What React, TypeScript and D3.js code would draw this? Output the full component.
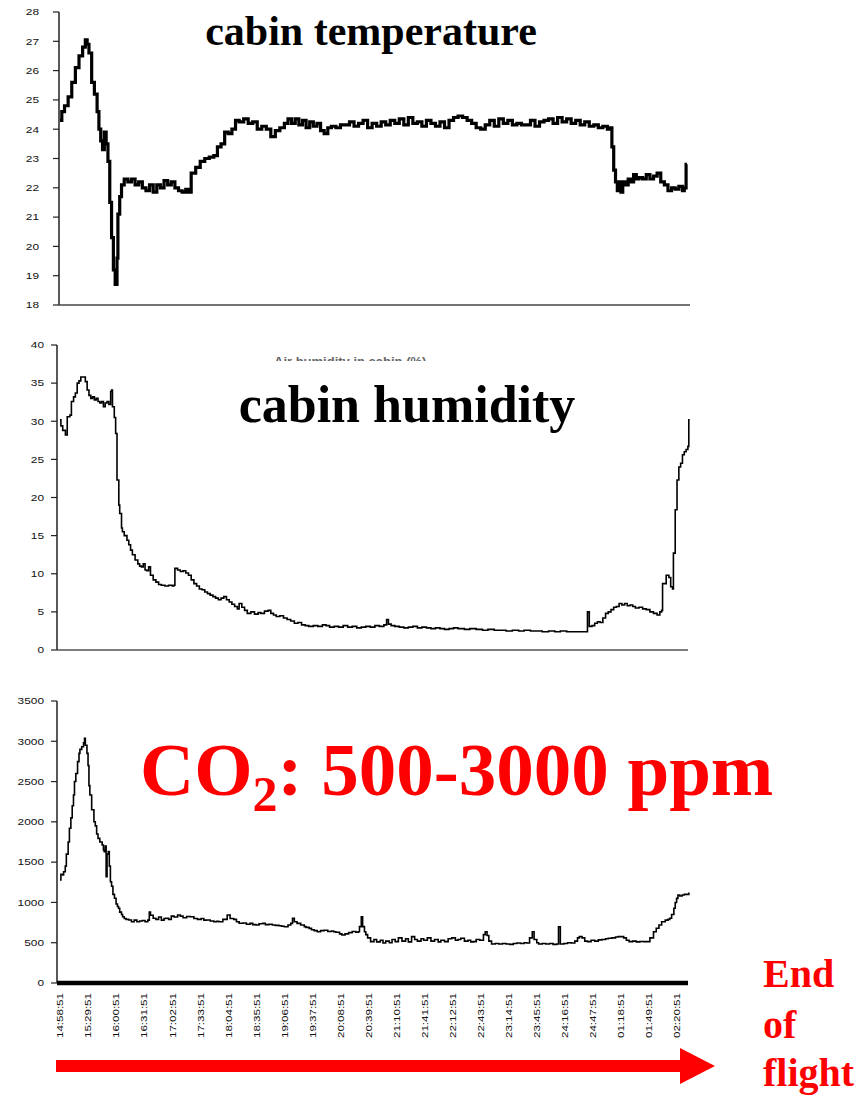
import React from 'react';
import * as d3 from 'd3';

// ---------- DATA (time in minutes since 14:58:51) ----------
const X_TICK_LABELS = [
  '14:58:51', '15:29:51', '16:00:51', '16:31:51', '17:02:51', '17:33:51', '18:04:51', '18:35:51',
  '19:06:51', '19:37:51', '20:08:51', '20:39:51', '21:10:51', '21:41:51', '22:12:51', '22:43:51',
  '23:14:51', '23:45:51', '24:16:51', '24:47:51', '01:18:51', '01:49:51', '02:20:51',
];

const TEMP_TICKS = [18, 19, 20, 21, 22, 23, 24, 25, 26, 27, 28];
const HUM_TICKS = [0, 5, 10, 15, 20, 25, 30, 35, 40];
const CO2_TICKS = [0, 500, 1000, 1500, 2000, 2500, 3000, 3500];

const TEMP: [number, number][] = [
  [0, 24.3], [2, 24.6], [5, 24.8], [9, 25.1], [13, 25.6], [17, 26.1], [21, 26.5], [25, 26.8], [28, 27.05],
  [30, 26.9], [32, 26.6], [35, 25.6], [38, 25.2], [41, 24.6], [43, 24.0], [45, 23.6], [47, 23.3], [49, 23.9],
  [51, 23.5], [53, 22.9], [55, 21.5], [57, 20.3], [59, 19.2], [61, 18.7], [63, 19.6], [64, 21.1], [66, 21.7],
  [68, 22.1], [71, 22.3], [75, 22.2], [79, 22.3], [83, 22.1], [87, 22.2], [91, 22.0], [95, 21.9], [99, 22.1],
  [103, 21.85], [107, 22.1], [111, 22.0], [115, 22.25], [119, 22.1], [123, 22.2], [127, 22.0], [131, 21.9],
  [135, 21.85], [139, 21.95], [142, 21.85], [145, 22.5], [150, 22.7], [155, 22.9], [160, 23.0], [165, 23.05],
  [170, 23.1], [174, 23.4], [178, 23.5], [182, 23.9], [186, 23.85], [190, 24.0], [194, 24.3], [198, 24.25],
  [203, 24.35], [208, 24.2], [213, 24.25], [218, 24.0], [223, 24.1], [228, 24.0], [233, 23.75], [238, 23.95],
  [243, 24.05], [248, 24.2], [252, 24.35], [256, 24.2], [260, 24.35], [264, 24.15], [268, 24.3], [272, 24.05],
  [276, 24.25], [280, 24.1], [284, 24.2], [288, 23.95], [292, 23.85], [296, 24.05], [300, 24.1], [305, 24.05],
  [310, 24.15], [315, 24.15], [320, 24.25], [325, 24.1], [330, 24.2], [335, 24.3], [340, 24.05], [345, 24.2],
  [350, 24.1], [355, 24.25], [360, 24.15], [365, 24.3], [370, 24.2], [375, 24.35], [380, 24.15], [385, 24.4],
  [390, 24.2], [395, 24.25], [400, 24.1], [405, 24.3], [410, 24.2], [415, 24.1], [420, 24.25], [425, 24.05],
  [430, 24.3], [435, 24.4], [440, 24.45], [445, 24.4], [450, 24.3], [455, 24.2], [460, 24.05], [465, 24.0],
  [470, 24.15], [475, 24.3], [480, 24.1], [485, 24.35], [490, 24.2], [495, 24.3], [500, 24.15], [505, 24.2],
  [510, 24.15], [515, 24.15], [520, 24.3], [525, 24.1], [530, 24.25], [535, 24.3], [540, 24.35], [545, 24.2],
  [550, 24.4], [555, 24.25], [560, 24.35], [565, 24.2], [570, 24.3], [575, 24.15], [580, 24.25], [585, 24.1],
  [590, 24.15], [595, 24.05], [600, 24.1], [605, 24.0], [608, 24.05], [610, 23.4], [612, 22.6], [614, 22.2],
  [616, 21.9], [618, 22.2], [620, 21.85], [622, 22.2], [625, 22.1], [628, 22.3], [631, 22.2], [634, 22.45],
  [637, 22.3], [640, 22.35], [644, 22.3], [648, 22.45], [652, 22.3], [656, 22.4], [660, 22.5], [664, 22.2],
  [668, 22.1], [672, 21.9], [676, 22.0], [680, 21.95], [684, 22.05], [688, 21.9], [690, 22.0], [692, 22.8], [693, 22.8],
];

const HUM: [number, number][] = [
  [0, 30.2], [1, 29.4], [3, 28.8], [6, 28.2], [8, 30.6], [11, 30.8], [12.6, 32.6], [15, 33.2], [17, 33.7],
  [19, 35], [21, 35.3], [23, 35.8], [26, 35.8], [28, 35.2], [30, 34.1], [32, 33.4], [34, 33.0], [36, 33.2],
  [38, 32.8], [40, 33.0], [42, 32.6], [44, 32.4], [46, 32.6], [48, 31.9], [50, 32.4], [52, 32.6], [54, 32.2],
  [56, 33.9], [57, 34.1], [58, 31.9], [60, 30.5], [61.5, 28.4], [63, 22.3], [65, 19], [66, 17.9], [68, 16],
  [69, 15.5], [71, 15], [74, 14.4], [76, 13.8], [78, 13.1], [80, 12.5], [83, 11.8], [86, 11.3], [88, 11.0],
  [90, 10.9], [92, 11.3], [94, 10.5], [96, 10.4], [98, 10.9], [100, 9.8], [103, 9.2], [106, 8.9], [109, 8.6],
  [112, 8.5], [116, 8.4], [120, 8.5], [124, 8.4], [126, 8.5], [127, 10.7], [130, 10.5], [133, 10.3], [136, 10.4],
  [139, 10.1], [142, 9.8], [145, 9.2], [148, 8.7], [151, 8.4], [154, 8.0], [157, 7.9], [160, 7.6], [163, 7.4],
  [166, 7.2], [169, 7.0], [172, 6.8], [175, 6.6], [178, 6.8], [181, 7.0], [184, 6.6], [187, 6.3], [190, 6.0],
  [193, 5.7], [196, 5.4], [198, 6.1], [201, 5.6], [204, 5.2], [207, 4.8], [211, 5.0], [215, 4.7], [219, 4.9],
  [222, 4.8], [226, 5.1], [230, 5.2], [233, 4.8], [236, 4.6], [239, 4.4], [243, 4.5], [247, 4.2], [251, 4.0],
  [255, 3.8], [259, 3.5], [263, 3.6], [267, 3.3], [271, 3.2], [275, 3.1], [280, 3.2], [285, 3.1], [290, 3.3],
  [294, 3.2], [298, 3.0], [303, 3.1], [308, 3.0], [313, 3.2], [318, 3.0], [323, 3.1], [328, 2.9], [333, 3.0],
  [338, 3.1], [343, 3.0], [348, 3.2], [353, 3.1], [358, 3.3], [361, 4.0], [363, 3.4], [366, 3.2], [370, 3.1],
  [375, 3.0], [380, 2.9], [385, 3.0], [390, 3.1], [395, 2.9], [400, 3.0], [405, 2.9], [410, 2.8], [415, 2.9],
  [420, 2.8], [425, 2.7], [430, 2.8], [435, 2.9], [440, 2.8], [447, 2.7], [453, 2.8], [460, 2.7], [467, 2.6],
  [473, 2.7], [480, 2.6], [487, 2.6], [493, 2.5], [500, 2.6], [507, 2.5], [513, 2.6], [520, 2.5], [527, 2.5],
  [533, 2.4], [540, 2.5], [547, 2.4], [553, 2.5], [560, 2.4], [567, 2.4], [574, 2.4], [581, 2.4], [583, 5.0],
  [585, 3.1], [588, 3.2], [591, 3.5], [594, 3.7], [597, 3.6], [600, 4.2], [603, 4.8], [606, 5.0], [609, 5.3],
  [612, 5.6], [615, 5.7], [618, 6.1], [621, 5.9], [624, 6.1], [627, 5.8], [630, 5.9], [633, 5.7], [636, 5.5],
  [640, 5.6], [644, 5.4], [648, 5.3], [652, 5.0], [656, 4.8], [660, 4.6], [663, 5.0], [665, 5.2], [666, 8.7],
  [670, 9.8], [673, 9.5], [675, 8.3], [677, 8.0], [678, 12.7], [680, 18.4], [682, 22.3], [684, 24.0],
  [686, 24.5], [688, 25.6], [690, 26.0], [692, 26.3], [694, 26.7], [695, 30.2], [696, 30.2],
];

const CO2: [number, number][] = [
  [0, 1280], [1, 1350], [3, 1340], [4, 1380], [5.8, 1450], [7, 1600], [9, 1750], [10.4, 1920], [12, 2050],
  [13.5, 2200], [14.9, 2333], [16, 2500], [17.5, 2600], [19.4, 2747], [21, 2850], [22, 2900], [24, 2933],
  [26, 2980], [27.1, 3036], [28, 2950], [29.8, 2850], [31, 2700], [32, 2450], [33, 2333], [35, 2150],
  [37.5, 2002], [39, 1950], [40.5, 1850], [42, 1795], [44, 1750], [46.6, 1713], [48, 1650], [48.9, 1630],
  [50, 1700], [51, 1320], [52, 1600], [53.4, 1630], [54.5, 1450], [55.7, 1257], [57, 1200], [58.5, 1100],
  [60.2, 1051], [62, 980], [63.5, 950], [64.7, 927], [66, 880], [68, 850], [69.2, 823], [71, 800], [73, 790],
  [76, 782], [79, 760], [82, 780], [85, 761], [88, 770], [91, 775], [94, 760], [97, 780], [98.7, 880],
  [100, 840], [103, 803], [106, 790], [109, 820], [112, 780], [115, 800], [117, 803], [120, 790], [123, 830],
  [126, 820], [130, 844], [133, 830], [136, 810], [140, 825], [144, 823], [148, 800], [152, 790], [156, 800],
  [159, 780], [162, 782], [166, 770], [170, 760], [173, 765], [175.7, 761], [180, 790], [184.8, 844],
  [188, 800], [192, 790], [195, 760], [198, 741], [202, 745], [206, 730], [210, 740], [213, 725], [216.5, 720],
  [220, 735], [224, 740], [227, 725], [231, 730], [234.6, 720], [238, 715], [242, 710], [245, 705], [248, 699],
  [252, 720], [255, 740], [257, 803], [259, 760], [262, 740], [266, 720], [270, 700], [272, 690], [275.4, 678],
  [278, 660], [281, 650], [284.4, 637], [288, 650], [292, 655], [296, 640], [300, 645], [302.5, 637],
  [305, 630], [309, 610], [311.6, 596], [315, 610], [319, 625], [323, 640], [327, 630], [329.7, 637],
  [331, 700], [333, 823], [334.5, 700], [336.5, 637], [338, 600], [340, 560], [343.3, 513], [347, 540],
  [350, 510], [354, 530], [357, 496], [360, 520], [364, 500], [367, 540], [370.5, 513], [374, 560], [378, 520],
  [382, 550], [385, 510], [388.6, 575], [392, 540], [395, 520], [399, 550], [402, 530], [406, 560], [410, 520],
  [414, 540], [418, 510], [421, 530], [425, 513], [429, 550], [433, 560], [437, 530], [440, 540], [443, 555],
  [447, 520], [451, 530], [454, 510], [456.6, 513], [460, 540], [464, 530], [468, 600], [470, 637], [472, 590],
  [474, 520], [477, 484], [481, 490], [485, 484], [489, 490], [493, 484], [497, 480], [501, 490], [505, 496],
  [509, 490], [513, 500], [516, 496], [519, 560], [522, 637], [524, 540], [527, 500], [529, 484], [533, 490],
  [537, 484], [541, 490], [545, 480], [549, 484], [551, 699], [553, 484], [557, 490], [561, 500], [565, 496],
  [569, 520], [572, 560], [574, 575], [577, 560], [580, 520], [583, 513], [587, 530], [591, 520], [595, 535],
  [599, 540], [603, 550], [606, 555], [610, 560], [614, 570], [617, 575], [620, 575], [623, 560], [626, 530],
  [629, 513], [633, 520], [637, 510], [641, 515], [645, 513], [649, 513], [652, 560], [656, 637], [659, 680],
  [662, 720], [665, 761], [669, 780], [672, 790], [674, 803], [676, 850], [678.5, 927], [680, 1000],
  [681.5, 1050], [683, 1092], [685, 1080], [687.6, 1092], [690, 1100], [693, 1100], [695, 1113], [696, 1113],
];

// ---------- helpers ----------
const toMinutes = (s: string) => {
  const [h, m, sec] = s.split(':').map(Number);
  const hh = h < 12 ? h + 24 : h;
  return (hh * 60 + m + sec / 60) - (14 * 60 + 58 + 51 / 60);
};

const SANS = 'Liberation Sans, Arial, sans-serif';
const SERIF = 'Liberation Serif, Times New Roman, serif';

const x = d3.scaleLinear().domain([0, 696]).range([60, 689.7]);

type PanelProps = {
  data: [number, number][];
  ticks: number[];
  domain: [number, number];
  top: number;
  bottom: number;
  axisX: number;
  axisRight: number;
  labelX: number;
  lineWidth: number;
  baseWidth: number;
  baseColor: string;
};

function Panel(p: PanelProps) {
  const y = d3.scaleLinear().domain(p.domain).range([p.bottom, p.top]);
  const line = d3
    .line<[number, number]>()
    .x((d) => x(d[0]))
    .y((d) => y(d[1]))
    .curve(d3.curveStepAfter);
  return (
    <g>
      <path d={line(p.data) || ''} fill="none" stroke="#000" strokeWidth={p.lineWidth} strokeLinejoin="miter" />
      <line x1={p.axisX} x2={p.axisX} y1={p.top} y2={p.bottom} stroke="#222" strokeWidth={1.5} />
      {p.ticks.map((t) => (
        <g key={t}>
          <line x1={p.axisX - 6} x2={p.axisX} y1={y(t)} y2={y(t)} stroke="#222" strokeWidth={1.2} />
          <text
            transform={`translate(${p.labelX},${y(t)}) scale(1.25,1)`}
            textAnchor="end"
            dy="0.35em"
            fontFamily={SANS}
            fontSize={9.5}
            fill="#111"
          >
            {t}
          </text>
        </g>
      ))}
      <line x1={p.axisX} x2={p.axisRight} y1={p.bottom} y2={p.bottom} stroke={p.baseColor} strokeWidth={p.baseWidth} />
    </g>
  );
}

export default function App() {
  return (
    <svg
      width={866}
      height={1098}
      viewBox="0 0 866 1098"
      style={{ position: 'absolute', left: 0, top: 0, background: '#fff' }}
    >
      <defs>
        <clipPath id="humClip">
          <rect x={200} y={345} width={400} height={16} />
        </clipPath>
        <clipPath id="co2Clip">
          <rect x={200} y={700} width={400} height={12} />
        </clipPath>
      </defs>
      <rect x={0} y={0} width={866} height={1098} fill="#fff" />

      {/* Temperature */}
      <Panel data={TEMP} ticks={TEMP_TICKS} domain={[18, 28]} top={12} bottom={305} axisX={59} axisRight={690}
        labelX={39} lineWidth={3.2} baseWidth={1.5} baseColor="#444" />
      <text x={371} y={45} textAnchor="middle" fontFamily={SERIF} fontWeight="bold" fontSize={42} fill="#000">
        cabin temperature
      </text>

      {/* Humidity */}
      <text x={274} y={366} fontFamily={SANS} fontWeight="bold" fontSize={13} fill="#666" clipPath="url(#humClip)">
        Air humidity in cabin (%)
      </text>
      <Panel data={HUM} ticks={HUM_TICKS} domain={[0, 40]} top={345} bottom={650} axisX={57} axisRight={688}
        labelX={44} lineWidth={1.6} baseWidth={1.5} baseColor="#555" />
      <text x={407} y={422} textAnchor="middle" fontFamily={SERIF} fontWeight="bold" fontSize={52} fill="#000">
        cabin humidity
      </text>

      {/* CO2 */}
      <text x={250} y={722} fontFamily={SANS} fontWeight="bold" fontSize={13} fill="#e4e4e4" clipPath="url(#co2Clip)">
        CO2 concentration in cabin (ppm)
      </text>
      <Panel data={CO2} ticks={CO2_TICKS} domain={[0, 3500]} top={701} bottom={983} axisX={57} axisRight={688}
        labelX={44} lineWidth={1.6} baseWidth={4.5} baseColor="#000" />
      <text x={140} y={795} fontFamily={SERIF} fontWeight="bold" fontSize={75} fill="#ff0000">
        CO<tspan fontSize={50} dy={16}>2</tspan><tspan dy={-16}>: 500-3000 ppm</tspan>
      </text>

      {/* x tick labels */}
      {X_TICK_LABELS.map((lab) => (
        <text
          key={lab}
          transform={`translate(${x(toMinutes(lab))},993) rotate(-90) scale(1.22,1)`}
          textAnchor="end"
          dy="0.35em"
          fontFamily={SANS}
          fontSize={9.5}
          fill="#111"
        >
          {lab}
        </text>
      ))}

      {/* arrow */}
      <rect x={56} y={1060} width={626} height={12} fill="#ff0000" />
      <path d="M680,1048 L715,1066 L680,1084 Z" fill="#ff0000" />

      {/* End of flight */}
      <g fontFamily={SERIF} fontWeight="bold" fontSize={40} fill="#ff0000">
        <text x={763} y={987}>End</text>
        <text x={763} y={1038}>of</text>
        <text x={763} y={1086}>flight</text>
      </g>
    </svg>
  );
}
